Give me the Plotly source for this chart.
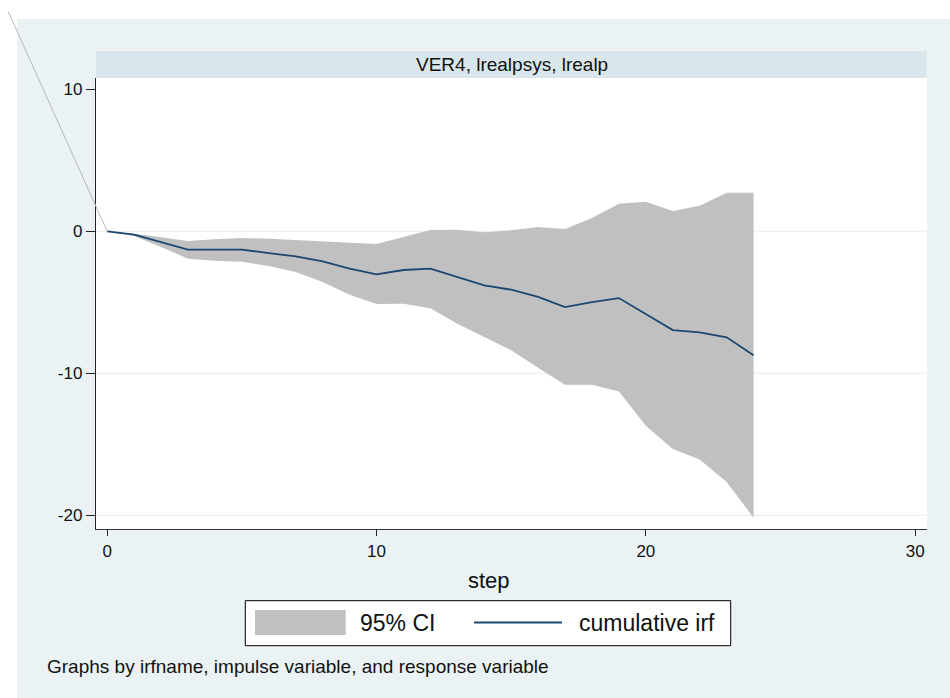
import plotly.graph_objects as go

# Cumulative impulse response of lrealp to lrealpsys (VER4), with 95% band
steps = list(range(25))
irf = [0.00, -0.23, -0.75, -1.29, -1.29, -1.29, -1.53, -1.76, -2.11, -2.63,
       -3.03, -2.72, -2.63, -3.24, -3.80, -4.11, -4.62, -5.33, -4.98, -4.70,
       -5.80, -6.95, -7.11, -7.46, -8.73]
ci_upper = [0.00, -0.16, -0.42, -0.68, -0.56, -0.47, -0.52, -0.61, -0.68, -0.80,
            -0.89, -0.40, 0.09, 0.12, -0.07, 0.07, 0.31, 0.17, 0.94, 1.95,
            2.09, 1.43, 1.81, 2.72, 2.72]
ci_lower = [0.00, -0.33, -1.10, -1.92, -2.07, -2.14, -2.44, -2.86, -3.57, -4.46,
            -5.12, -5.10, -5.42, -6.50, -7.44, -8.38, -9.60, -10.80, -10.80, -11.27,
            -13.69, -15.33, -16.06, -17.65, -20.16]

x_ticks = [0, 10, 20, 30]
y_ticks = [-20, -10, 0, 10]
y_ticktext = ["-20", "-10", "0", "10"]
grid_levels = [-20, -10, 0]

panel_title = "VER4, lrealpsys, lrealp"
x_title = "step"
note_text = "Graphs by irfname, impulse variable, and response variable"
ci_label = "95% CI"
irf_label = "cumulative irf"

# Colours (Stata s2color-like scheme)
BG = "#EAF2F3"
STRIP = "#D9E6EB"
CI_GREY = "#C0C0C0"
NAVY = "#1A476F"
FONT = "Liberation Sans, Arial, sans-serif"

W, H = 950, 698
ML, MR, MT, MB = 96, 23, 78, 169
PW, PH = W - ML - MR, H - MT - MB
X_RANGE = [-0.416, 30.44]
Y_RANGE = [-20.96, 10.80]


def px(x):
    """Horizontal pixel -> paper coordinate."""
    return (x - ML) / PW


def py(y):
    """Vertical pixel (from top) -> paper coordinate."""
    return (H - MB - y) / PH


fig = go.Figure()

# confidence band as a closed polygon
fig.add_trace(go.Scatter(
    x=steps + steps[::-1],
    y=ci_upper + ci_lower[::-1],
    fill="toself", fillcolor=CI_GREY,
    line=dict(width=0), mode="lines",
    hoverinfo="skip", showlegend=False,
))
fig.add_trace(go.Scatter(
    x=steps, y=irf, mode="lines",
    line=dict(color=NAVY, width=1.8),
    showlegend=False,
))

shapes = []
# white margin outside the graph region
shapes.append(dict(type="rect", xref="paper", yref="paper",
                   x0=px(0), x1=px(W), y0=py(19), y1=py(0),
                   fillcolor="white", line=dict(width=0), layer="below"))
shapes.append(dict(type="rect", xref="paper", yref="paper",
                   x0=px(0), x1=px(17), y0=py(H), y1=py(0),
                   fillcolor="white", line=dict(width=0), layer="below"))
# panel title strip
shapes.append(dict(type="rect", xref="paper", yref="paper",
                   x0=0, x1=1, y0=1, y1=py(51.3),
                   fillcolor=STRIP, line=dict(width=0), layer="below"))
# horizontal grid lines
for g in grid_levels:
    shapes.append(dict(type="line", xref="paper", yref="y",
                       x0=0, x1=1, y0=g, y1=g,
                       line=dict(color=BG, width=1.2), layer="between"))

# stray connector from the upper-left corner to the origin point
x_origin = (steps[0] - X_RANGE[0]) / (X_RANGE[1] - X_RANGE[0])
y_origin = (irf[0] - Y_RANGE[0]) / (Y_RANGE[1] - Y_RANGE[0])
shapes.append(dict(type="line", xref="paper", yref="paper",
                   x0=px(8.3), y0=py(11.7), x1=x_origin, y1=y_origin,
                   line=dict(color="#B8B8B8", width=1), layer="above"))

# legend box drawn by hand
lg_x0, lg_x1, lg_y0, lg_y1 = 245.3, 730.7, 600.7, 645.7
shapes.append(dict(type="rect", xref="paper", yref="paper",
                   x0=px(lg_x0), x1=px(lg_x1), y0=py(lg_y1), y1=py(lg_y0),
                   fillcolor="white", line=dict(color="black", width=1)))
shapes.append(dict(type="rect", xref="paper", yref="paper",
                   x0=px(255), x1=px(345.7), y0=py(635), y1=py(610),
                   fillcolor=CI_GREY, line=dict(width=0)))
shapes.append(dict(type="line", xref="paper", yref="paper",
                   x0=px(474), x1=px(562), y0=py(622.5), y1=py(622.5),
                   line=dict(color=NAVY, width=2)))

annotations = [
    dict(text=panel_title, xref="paper", yref="paper", x=0.5, y=py(64.5),
         xanchor="center", yanchor="middle", showarrow=False,
         font=dict(family=FONT, size=19, color="#111111")),
    dict(text=x_title, xref="paper", yref="paper", x=px(488.8), y=py(580),
         xanchor="center", yanchor="middle", showarrow=False,
         font=dict(family=FONT, size=22, color="#111111")),
    dict(text=ci_label, xref="paper", yref="paper", x=px(358), y=py(622.5),
         xanchor="left", yanchor="middle", showarrow=False,
         font=dict(family=FONT, size=23, color="#111111")),
    dict(text=irf_label, xref="paper", yref="paper", x=px(576.5), y=py(622.5),
         xanchor="left", yanchor="middle", showarrow=False,
         font=dict(family=FONT, size=23, color="#111111")),
    dict(text=note_text, xref="paper", yref="paper", x=px(45), y=py(666.5),
         xanchor="left", yanchor="middle", showarrow=False,
         font=dict(family=FONT, size=19, color="#111111")),
]

fig.update_layout(
    width=W, height=H,
    margin=dict(l=ML, r=MR, t=MT, b=MB, pad=0),
    paper_bgcolor=BG, plot_bgcolor="white",
    showlegend=False,
    shapes=shapes, annotations=annotations,
    font=dict(family=FONT, color="#111111"),
    xaxis=dict(range=X_RANGE, tickvals=x_ticks, ticks="outside", ticklen=6,
               tickcolor="#222222", tickwidth=1, showgrid=False, zeroline=False,
               showline=True, linecolor="#333333", linewidth=1.3,
               tickfont=dict(family=FONT, size=17, color="#111111")),
    yaxis=dict(range=Y_RANGE, tickvals=y_ticks, ticktext=y_ticktext,
               ticks="outside", ticklen=9, tickcolor="#222222", tickwidth=1,
               showgrid=False, zeroline=False, showline=True,
               linecolor="#222222", linewidth=1.3,
               tickfont=dict(family=FONT, size=17, color="#111111")),
)

fig.write_html("out.html")
